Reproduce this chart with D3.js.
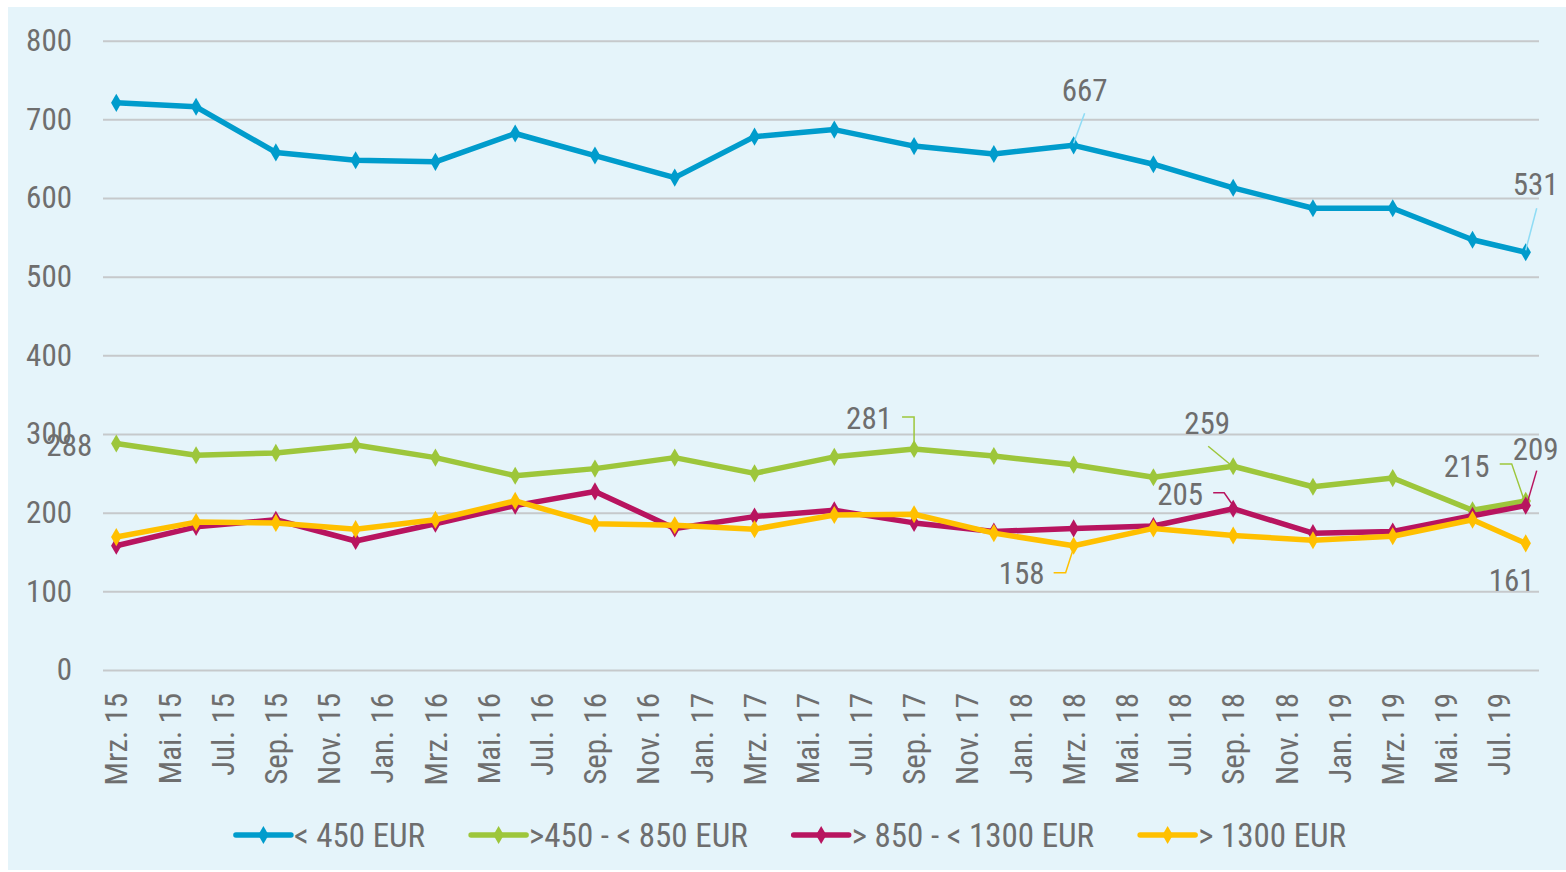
<!DOCTYPE html>
<html>
<head>
<meta charset="utf-8">
<script src="https://cdn.jsdelivr.net/npm/d3@7"></script>
<style>
  body { margin: 0; background: #fff; }
  svg { display: block; }
  text { font-family: "Liberation Sans Narrow", "Roboto Condensed", Roboto, sans-serif; fill: #6e6e6e; }
</style>
</head>
<body>
<div id="chart"></div>
<script>
// months of the data points (quarterly, last one August 2019)
const months = ["2015-03","2015-06","2015-09","2015-12","2016-03","2016-06","2016-09","2016-12",
  "2017-03","2017-06","2017-09","2017-12","2018-03","2018-06","2018-09","2018-12",
  "2019-03","2019-06","2019-08"];

const seriesNames = ["< 450 EUR", ">450 - < 850 EUR", "> 850 - < 1300 EUR", "> 1300 EUR"];

const under450 = [721,716,658,648,646,682,654,626,678,687,666,656,667,643,613,587,587,547,531];
const from450to850 = [288,273,276,286,270,247,256,270,250,271,281,272,261,245,259,233,244,203,215];
const from850to1300 = [158,182,191,164,186,209,227,180,195,203,187,176,180,183,205,174,176,196,209];
const over1300 = [169,188,187,179,191,215,186,184,179,197,198,174,158,180,171,165,170,191,161];

const tickLabels = ["Mrz. 15","Mai. 15","Jul. 15","Sep. 15","Nov. 15","Jan. 16","Mrz. 16","Mai. 16",
  "Jul. 16","Sep. 16","Nov. 16","Jan. 17","Mrz. 17","Mai. 17","Jul. 17","Sep. 17","Nov. 17",
  "Jan. 18","Mrz. 18","Mai. 18","Jul. 18","Sep. 18","Nov. 18","Jan. 19","Mrz. 19","Mai. 19","Jul. 19"];

const yTicks = [0,100,200,300,400,500,600,700,800];

// which points carry a value label: [series, point index]
const labelled = [[0,12],[0,18],[1,0],[1,10],[1,14],[1,18],[2,14],[2,18],[3,12],[3,18]];

const colors = ["#009ccc", "#9dc63b", "#b8145f", "#ffc000"];
const leaderColors = ["#8fdcf5", "#9dc63b", "#b8145f", "#ffc000"];

// label placement relative to its point: text centre + leader polyline
const labelLayout = {
  "0-12": { dx: 11, dy: -55, leader: [[11,-32],[0,-2]] },
  "0-18": { dx: 10, dy: -68, leader: [[11,-44],[0,-2]] },
  "1-0":  { dx: -47, dy: 1, leader: null },
  "1-10": { dx: -45, dy: -31, leader: [[-12,-32],[0,-32],[0,-3]] },
  "1-14": { dx: -26, dy: -43, leader: [[-25,-20],[-2,-1]] },
  "1-18": { dx: -59, dy: -35, leader: [[-26,-37],[-14,-37],[-2,-2]] },
  "2-14": { dx: -53, dy: -15, leader: [[-20,-16],[-9,-16],[0,-3]] },
  "2-18": { dx: 10, dy: -57, leader: [[11,-35],[1,-1]] },
  "3-12": { dx: -52, dy: 27, leader: [[-20,27],[-8,27],[0,2]] },
  "3-18": { dx: -14, dy: 36, leader: null }
};

const W = 1566, H = 872;
const parse = d3.timeParse("%Y-%m");
const dates = months.map(parse);
const allMonths = d3.timeMonth.range(parse("2015-03"), parse("2019-09"));

const series = [under450, from450to850, from850to1300, over1300].map((vals, k) => ({
  name: seriesNames[k], color: colors[k],
  values: vals.map((v, i) => ({ date: dates[i], value: v }))
}));

const svg = d3.select("#chart").append("svg").attr("width", W).attr("height", H);

svg.append("rect").attr("x", 8).attr("y", 7).attr("width", W - 8).attr("height", H - 9)
  .attr("fill", "#e5f4fa");

const plotLeft = 103, plotRight = 1539, plotTop = 40.7, plotBottom = 670;

const x = d3.scaleBand().domain(allMonths.map(d => +d)).range([plotLeft, plotRight]).padding(0);
const xc = d => x(+d) + x.bandwidth() / 2;
const y = d3.scaleLinear().domain([0, 800]).range([plotBottom, plotTop]);

// gridlines + y labels
const yAxis = svg.append("g")
  .attr("transform", `translate(${plotLeft},0)`)
  .call(d3.axisLeft(y).tickValues(yTicks).tickSize(-(plotRight - plotLeft)).tickPadding(31));
yAxis.select(".domain").remove();
yAxis.selectAll(".tick line").attr("stroke", "#c6c9cb").attr("stroke-width", 2);
yAxis.selectAll(".tick text").attr("font-size", 31).attr("fill", "#6e6e6e");
yAxis.attr("font-family", null);

// x labels (every second month)
const tickDates = allMonths.filter((d, i) => i % 2 === 0).slice(0, tickLabels.length);
const xAxis = svg.append("g")
  .attr("transform", `translate(0,${plotBottom})`)
  .call(d3.axisBottom(x).tickValues(tickDates.map(d => +d)).tickSize(0)
    .tickFormat((d, i) => tickLabels[i]));
xAxis.select(".domain").remove();
xAxis.attr("font-family", null);
xAxis.selectAll(".tick text")
  .attr("font-size", 31).attr("fill", "#6e6e6e")
  .attr("text-anchor", "end")
  .attr("transform", "rotate(-90)")
  .attr("x", -23).attr("y", 0).attr("dy", "0.36em");

// lines
const line = d3.line().x(d => xc(d.date)).y(d => y(d.value));
const diamond = d3.symbol().type(d3.symbolDiamond).size(95);

const sg = svg.append("g").selectAll("g").data(series).join("g");
sg.append("path")
  .attr("d", d => line(d.values))
  .attr("fill", "none").attr("stroke", d => d.color)
  .attr("stroke-width", 5.5).attr("stroke-linejoin", "round");
sg.selectAll("path.m").data(d => d.values.map(v => ({ ...v, color: d.color }))).join("path")
  .attr("class", "m")
  .attr("d", diamond)
  .attr("transform", d => `translate(${xc(d.date)},${y(d.value)})`)
  .attr("fill", d => d.color);

// value labels
const lg = svg.append("g");
labelled.forEach(([s, i]) => {
  const p = series[s].values[i];
  const px = xc(p.date), py = y(p.value);
  const lay = labelLayout[s + "-" + i];
  if (lay.leader) {
    lg.append("path")
      .attr("d", d3.line()(lay.leader.map(([a, b]) => [px + a, py + b])))
      .attr("fill", "none").attr("stroke", leaderColors[s]).attr("stroke-width", 1.5);
  }
  lg.append("text")
    .attr("x", px + lay.dx).attr("y", py + lay.dy).attr("dy", "0.36em")
    .attr("text-anchor", "middle").attr("font-size", 31)
    .text(p.value);
});

// legend
const legend = svg.append("g").attr("transform", "translate(0,835)");
const items = legend.selectAll("g").data(series).join("g");
items.append("line").attr("x1", 0).attr("x2", 55)
  .attr("stroke", d => d.color).attr("stroke-width", 5.5).attr("stroke-linecap", "round");
items.append("path").attr("d", diamond).attr("transform", "translate(27.5,0)")
  .attr("fill", d => d.color);
items.append("text").attr("x", 58).attr("dy", "0.36em").attr("font-size", 33)
  .text(d => d.name);
let widths = [];
items.each(function() { widths.push(this.getBBox().width); });
const gap = 46;
const total = d3.sum(widths) + gap * (widths.length - 1);
let cx = 791 - total / 2;
items.attr("transform", (d, i) => {
  const t = `translate(${cx},0)`;
  cx += widths[i] + gap;
  return t;
});
</script>
</body>
</html>
